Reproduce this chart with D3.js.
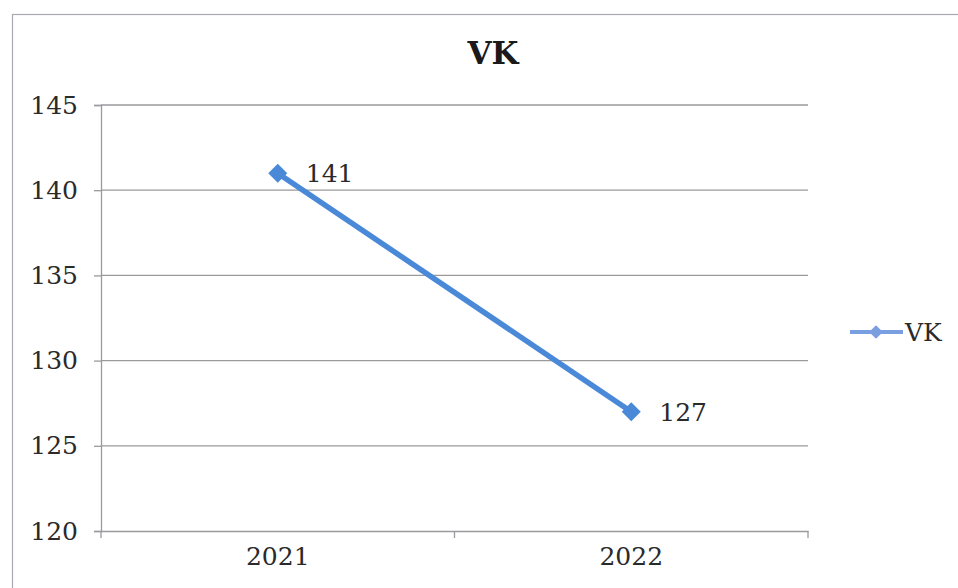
<!DOCTYPE html>
<html><head><meta charset="utf-8">
<script src="https://cdn.jsdelivr.net/npm/d3@7"></script>
<style>html,body{margin:0;padding:0;background:#fff;overflow:hidden}</style>
</head><body>
<svg id="c" width="958" height="588"></svg>
<script>
const categories = ["2021", "2022"];
const seriesName = "VK";
const values = [141, 127];
const yTicks = [120, 125, 130, 135, 140, 145];

const svg = d3.select("#c");
const font = "'DejaVu Serif', serif";
const m = {left: 101, right: 808, top: 105, bottom: 531};

// outer border
svg.append("rect").attr("x", 12.5).attr("y", 14.5).attr("width", 1000).attr("height", 1000)
  .attr("fill", "none").attr("stroke", "#a9a9b0").attr("stroke-width", 1.2);

svg.append("text").attr("x", 493).attr("y", 64).attr("text-anchor", "middle")
  .attr("font-family", font).attr("font-weight", "bold").attr("font-size", 31)
  .attr("fill", "#1a1a1a").text(seriesName);

const x = d3.scaleBand().domain(categories).range([m.left, m.right]);
const y = d3.scaleLinear().domain([120, 145]).range([m.bottom, m.top]);

// gridlines
svg.append("g").selectAll("line").data(yTicks.filter(t => t !== 120)).join("line")
  .attr("x1", m.left).attr("x2", m.right)
  .attr("y1", d => y(d)).attr("y2", d => y(d))
  .attr("stroke", "#9a9a9e").attr("stroke-width", 1.3);

const yAxis = svg.append("g").attr("transform", `translate(${m.left},0)`)
  .call(d3.axisLeft(y).tickValues(yTicks).tickSize(7).tickPadding(16));
yAxis.select(".domain").attr("stroke", "#9a9a9e").attr("stroke-width", 1.3);
yAxis.selectAll(".tick line").attr("stroke", "#9a9a9e").attr("stroke-width", 1.3);
yAxis.selectAll("text").attr("font-family", font).attr("font-size", 25).attr("fill", "#2a2a2a");

const xAxis = svg.append("g").attr("transform", `translate(0,${m.bottom})`)
  .call(d3.axisBottom(x).tickSize(0).tickPadding(16));
xAxis.select(".domain").attr("stroke", "#9a9a9e").attr("stroke-width", 1.3);
xAxis.selectAll("text").attr("font-family", font).attr("font-size", 25).attr("fill", "#2a2a2a");
// category boundary ticks
const bounds = [m.left, m.left + x.bandwidth(), m.right];
svg.append("g").selectAll("line").data(bounds).join("line")
  .attr("x1", d => d).attr("x2", d => d).attr("y1", m.bottom).attr("y2", m.bottom + 7)
  .attr("stroke", "#9a9a9e").attr("stroke-width", 1.3);

const cx = c => x(c) + x.bandwidth() / 2;
const color = "#4a88d8";
const line = d3.line().x((d, i) => cx(categories[i])).y(d => y(d));
svg.append("path").datum(values).attr("d", line).attr("fill", "none")
  .attr("stroke", color).attr("stroke-width", 5.5);

const diamond = d3.symbol().type(d3.symbolDiamond2).size(230);
svg.append("g").selectAll("path").data(values).join("path")
  .attr("d", diamond)
  .attr("transform", (d, i) => `translate(${cx(categories[i])},${y(d)})`)
  .attr("fill", color);

svg.append("g").selectAll("text").data(values).join("text")
  .attr("x", (d, i) => cx(categories[i]) + 28)
  .attr("y", (d) => y(d) + 9)
  .attr("font-family", font).attr("font-size", 25).attr("fill", "#2a2a2a")
  .text(d => d);

// legend
const ly = 332;
svg.append("line").attr("x1", 850).attr("x2", 903).attr("y1", ly).attr("y2", ly)
  .attr("stroke", "#7a9fe0").attr("stroke-width", 4);
svg.append("path").attr("d", d3.symbol().type(d3.symbolDiamond2).size(120))
  .attr("transform", `translate(876,${ly})`).attr("fill", "#7a9fe0");
svg.append("text").attr("x", 905).attr("y", ly + 9)
  .attr("font-family", font).attr("font-size", 25).attr("fill", "#2a2a2a").text(seriesName);
</script>
</body></html>
